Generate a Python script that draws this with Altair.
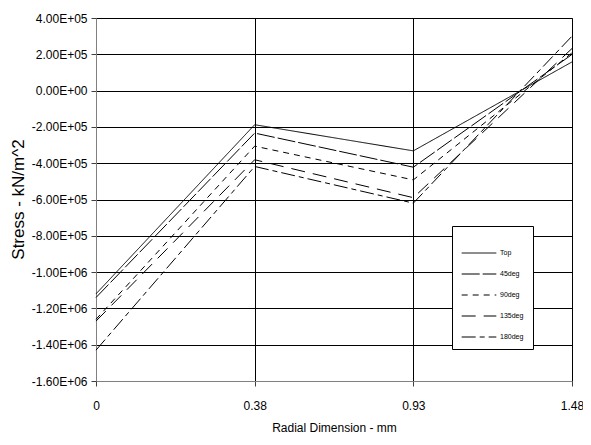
import altair as alt
import pandas as pd

x_labels = ["0", "0.38", "0.93", "1.48"]
series_names = ["Top", "45deg", "90deg", "135deg", "180deg"]
top_vals = [-1.12e6, -1.88e5, -3.32e5, 1.58e5]
deg45_vals = [-1.14e6, -2.34e5, -4.22e5, 1.99e5]
deg90_vals = [-1.26e6, -3.06e5, -4.92e5, 2.08e5]
deg135_vals = [-1.27e6, -3.81e5, -5.90e5, 2.32e5]
deg180_vals = [-1.43e6, -4.18e5, -6.20e5, 3.00e5]
y_tick_labels = ["-1.60E+06", "-1.40E+06", "-1.20E+06", "-1.00E+06", "-8.00E+05",
                 "-6.00E+05", "-4.00E+05", "-2.00E+05", "0.00E+00", "2.00E+05", "4.00E+05"]
y_ticks = [-1.6e6 + 2e5 * i for i in range(len(y_tick_labels))]
dashes = [[1, 0], [18, 3], [6, 5], [14, 8], [14, 4, 5, 4]]

rows = []
for name, vals in zip(series_names, [top_vals, deg45_vals, deg90_vals, deg135_vals, deg180_vals]):
    for i, v in enumerate(vals):
        rows.append({"series": name, "xi": i, "stress": v})
df = pd.DataFrame(rows)

ylab_arr = "[" + ",".join("'%s'" % s for s in y_tick_labels) + "]"
xlab_arr = "[" + ",".join("'%s'" % s for s in x_labels) + "]"

chart = alt.Chart(df).mark_line(strokeWidth=1, color="black").encode(
    x=alt.X("xi:Q", scale=alt.Scale(domain=[0, 3], nice=False, zero=False),
            axis=alt.Axis(values=[0, 1, 2, 3], labelExpr=xlab_arr + "[round(datum.value)]",
                          title="Radial Dimension - mm", grid=True, gridColor="black",
                          gridOpacity=1, domainColor="#808080", tickColor="#404040",
                          tickSize=5, labelPadding=14, titleY=46, titleBaseline="middle",
                          labelFlush=False)),
    y=alt.Y("stress:Q", scale=alt.Scale(domain=[-1.6e6, 4e5], nice=False),
            axis=alt.Axis(values=y_ticks,
                          labelExpr=ylab_arr + "[round((datum.value + 1600000) / 200000)]",
                          title="Stress - kN/m^2", grid=True, gridColor="black", gridOpacity=1,
                          domainColor="#808080", tickColor="#404040", tickSize=5,
                          labelPadding=4, titleX=-78, titleY=181, titleBaseline="middle",
                          titleAlign="center", titleAngle=-90, titleFontSize=17)),
    strokeDash=alt.StrokeDash("series:N", sort=series_names,
                              scale=alt.Scale(domain=series_names, range=dashes),
                              legend=alt.Legend(title=None, orient="none", legendX=356, legendY=208,
                                                strokeColor="black", fillColor="white",
                                                padding=9, symbolType="stroke", symbolSize=1200,
                                                symbolStrokeColor="black", symbolStrokeWidth=1,
                                                labelFontSize=7, rowPadding=-14, labelOffset=3)),
).properties(
    width=476, height=363,
    autosize=alt.AutoSizeParams(type="none"),
    padding={"left": 88, "top": 10, "right": 11, "bottom": 54},
).configure(
    font="Liberation Sans",
).configure_axis(
    labelFontSize=12, titleFontSize=12, labelFont="Liberation Sans", titleFont="Liberation Sans",
    labelColor="black", titleColor="black", titleFontWeight="normal",
).configure_view(
    stroke="#808080", strokeWidth=1,
).configure_legend(
    labelFont="Liberation Sans", labelColor="black",
)

chart.save("out.html", embed_options={"renderer": "svg", "actions": False})
